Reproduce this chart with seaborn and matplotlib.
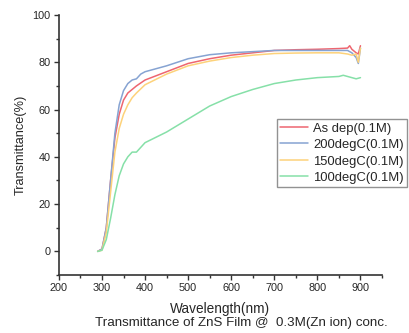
import numpy as np
import pandas as pd
import seaborn as sns
import matplotlib.pyplot as plt
from matplotlib.ticker import MultipleLocator

# Transmittance spectra (wavelength in nm, transmittance in %)
wl_asdep = [290, 300, 310, 320, 330, 340, 350, 360, 370, 380, 400, 450, 500, 550, 600, 650, 700, 750, 800, 850, 870, 875, 880, 890, 895, 900]
t_asdep = [0, 1, 10, 30, 48, 58, 64, 67, 68.5, 70, 72.5, 76, 79.5, 81.5, 83, 84, 85, 85.3, 85.5, 85.8, 86, 87, 85.5, 84, 83.5, 87]

wl_200 = [290, 300, 310, 320, 330, 340, 350, 360, 370, 380, 390, 400, 450, 500, 550, 600, 650, 700, 750, 800, 850, 870, 880, 890, 895, 900]
t_200 = [0, 1, 10, 30, 50, 62, 68, 71, 72.5, 73, 75, 76, 78.5, 81.5, 83.2, 84, 84.5, 85, 85, 85, 85, 85, 84, 82, 79.5, 86]

wl_150 = [290, 300, 310, 320, 330, 340, 350, 360, 370, 380, 400, 450, 500, 550, 600, 650, 700, 750, 800, 850, 870, 880, 890, 895, 900]
t_150 = [0, 0.5, 8, 25, 42, 52, 58, 62, 65, 67, 70.5, 75, 78.5, 80.5, 82, 83, 83.7, 83.9, 84, 84, 83.5, 83, 83.5, 80, 86]

wl_100 = [290, 300, 310, 320, 330, 340, 350, 360, 370, 380, 390, 400, 450, 500, 550, 600, 650, 700, 750, 800, 850, 860, 870, 880, 890, 900]
t_100 = [0, 0.5, 5, 14, 24, 32, 37, 40, 42, 42, 44, 46, 50.5, 56, 61.5, 65.5, 68.5, 71, 72.5, 73.5, 74, 74.5, 74, 73.5, 73, 73.5]

labels = ["As dep(0.1M)", "200degC(0.1M)", "150degC(0.1M)", "100degC(0.1M)"]
colors = ["#ee6670", "#86a3d2", "#fdd27a", "#86e0a8"]

frames = []
for lab, wl, t in zip(labels, [wl_asdep, wl_200, wl_150, wl_100],
                      [t_asdep, t_200, t_150, t_100]):
    frames.append(pd.DataFrame({"Wavelength": wl, "Transmittance": t, "Sample": lab}))
df = pd.concat(frames, ignore_index=True)

sns.set_style("ticks")
plt.rcParams["font.family"] = ["Liberation Sans", "DejaVu Sans"]

fig = plt.figure(figsize=(4.09, 3.33), dpi=100)
ax = fig.add_axes([0.144, 0.174, 0.790, 0.781])

sns.lineplot(data=df, x="Wavelength", y="Transmittance", hue="Sample",
             hue_order=labels, palette=colors, linewidth=1.1, ax=ax,
             sort=False, estimator=None)

ax.set_xlim(200, 950)
ax.set_ylim(-10, 100)
ax.xaxis.set_major_locator(MultipleLocator(100))
ax.xaxis.set_minor_locator(MultipleLocator(50))
ax.yaxis.set_major_locator(MultipleLocator(20))
ax.yaxis.set_minor_locator(MultipleLocator(10))
ax.set_xticks(range(200, 1000, 100))
ax.set_xticklabels([str(v) for v in range(200, 1000, 100)])
ax.tick_params(axis="both", which="major", direction="out", length=3.5,
               width=1, labelsize=7.8, color="#333333", pad=2.5)
ax.tick_params(axis="both", which="minor", direction="out", length=2,
               width=1, color="#333333")
for s in ["left", "bottom"]:
    ax.spines[s].set_linewidth(1.2)
    ax.spines[s].set_color("#333333")
sns.despine(ax=ax)

ax.set_xlabel("Wavelength(nm)", fontsize=9.8, labelpad=6)
ax.set_ylabel("Transmittance(%)", fontsize=9.2, labelpad=4)
fig.text(0.590, 0.030, "Transmittance of ZnS Film @  0.3M(Zn ion) conc.",
         ha="center", va="center", fontsize=9.6)

leg = ax.legend(loc="upper left", bbox_to_anchor=(0.677, 0.642),
                bbox_transform=fig.transFigure, frameon=True, fancybox=False,
                fontsize=9.4, handlelength=2.15, handletextpad=0.4,
                labelspacing=0.33, borderpad=0.25, borderaxespad=0)
leg.get_frame().set_edgecolor("#777777")
leg.get_frame().set_linewidth(1.0)

fig.savefig("out.png", dpi=100)
